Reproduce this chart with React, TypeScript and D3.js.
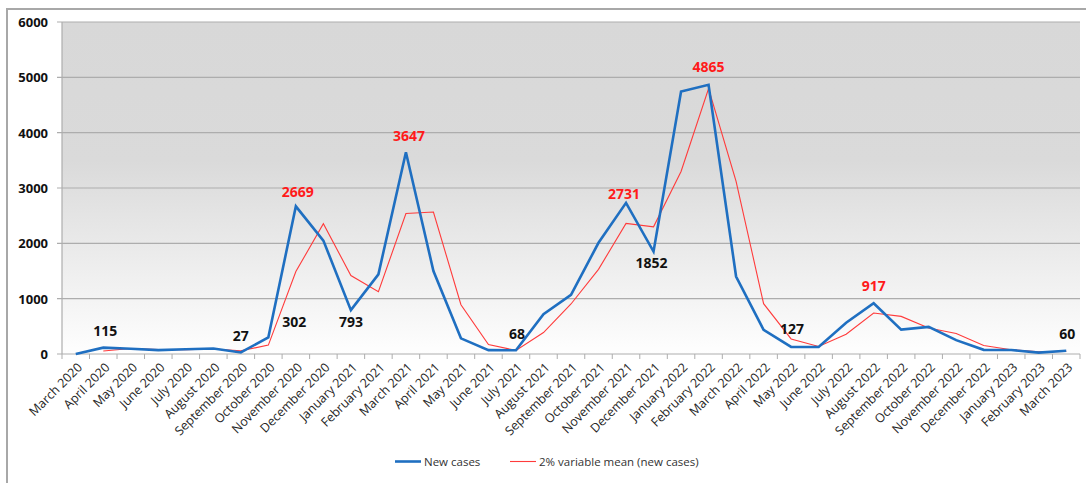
import React from "react";
import * as d3 from "d3";

const months = [
  "March 2020","April 2020","May 2020","June 2020","July 2020","August 2020","September 2020","October 2020","November 2020","December 2020",
  "January 2021","February 2021","March 2021","April 2021","May 2021","June 2021","July 2021","August 2021","September 2021","October 2021","November 2021","December 2021",
  "January 2022","February 2022","March 2022","April 2022","May 2022","June 2022","July 2022","August 2022","September 2022","October 2022","November 2022","December 2022",
  "January 2023","February 2023","March 2023",
];

const newCases = [
  0, 115, 95, 70, 85, 100, 27, 302, 2669, 2050,
  793, 1440, 3647, 1500, 283, 70, 68, 720, 1070, 2010, 2731, 1852,
  4745, 4865, 1400, 436, 127, 128, 565, 917, 440, 490, 250, 75,
  72, 25, 60,
];

const movingMean: (number | null)[] = [
  null, 55, 100, 80, 78, 90, 58, 160, 1490, 2355,
  1418, 1125, 2540, 2565, 890, 170, 65, 388, 904, 1530, 2360, 2298,
  3298, 4795, 3120, 910, 272, 135, 358, 740, 680, 470, 372, 155,
  78, 40, 48,
];

const yTicks = [0, 1000, 2000, 3000, 4000, 5000, 6000];

// annotations: month index, value text, color, label offset
const annotations = [
  { i: 1, text: "115", color: "#111", dx: 2, dy: -17 },
  { i: 6, text: "27", color: "#111", dx: 0, dy: -17 },
  { i: 7, text: "302", color: "#111", dx: 26, dy: -16 },
  { i: 10, text: "793", color: "#111", dx: 0, dy: 11 },
  { i: 16, text: "68", color: "#111", dx: 1, dy: -17 },
  { i: 21, text: "1852", color: "#111", dx: -2, dy: 11 },
  { i: 26, text: "127", color: "#111", dx: 1, dy: -18 },
  { i: 36, text: "60", color: "#111", dx: 1, dy: -17 },
  { i: 8, text: "2669", color: "#ff1a1a", dx: 2, dy: -15 },
  { i: 12, text: "3647", color: "#ff1a1a", dx: 3, dy: -17 },
  { i: 20, text: "2731", color: "#ff1a1a", dx: -2, dy: -9 },
  { i: 23, text: "4865", color: "#ff1a1a", dx: 0, dy: -18 },
  { i: 29, text: "917", color: "#ff1a1a", dx: 0, dy: -18 },
];

const W = 1086, H = 483;
const plot = { left: 62, right: 1080, top: 22, bottom: 354 };

export default function App() {
  const x = d3.scaleBand<string>().domain(months).range([plot.left, plot.right]).padding(0);
  const y = d3.scaleLinear().domain([0, 6000]).range([plot.bottom, plot.top]);
  const cx = (i: number) => (x(months[i]) as number) + x.bandwidth() / 2;

  const lineBlue = d3.line<number>().x((_, i) => cx(i)).y((d) => y(d))(newCases) as string;
  const lineRed = d3
    .line<number | null>()
    .defined((d) => d !== null)
    .x((_, i) => cx(i))
    .y((d) => y(d as number))(movingMean) as string;

  const font = "'Open Sans', 'Liberation Sans', sans-serif";

  return (
    <svg width={W} height={H} style={{ position: "absolute", left: 0, top: 0, background: "#fff" }} fontFamily={font}>
      <defs>
        <linearGradient id="bg" x1="0" y1="0" x2="0" y2="1">
          <stop offset="0" stopColor="#d8d8d8" />
          <stop offset="0.42" stopColor="#dadada" />
          <stop offset="1" stopColor="#fefefe" />
        </linearGradient>
      </defs>
      <rect x={7} y={9} width={1200} height={600} fill="#fff" stroke="#a8a8a8" strokeWidth={2} />
      <rect x={plot.left} y={plot.top} width={plot.right - plot.left} height={plot.bottom - plot.top} fill="url(#bg)" />
      {yTicks.map((t) => (
        <g key={t}>
          <line x1={plot.left - 5} x2={plot.right} y1={y(t)} y2={y(t)} stroke="#adadad" strokeWidth={1.2} />
          <text x={48} y={y(t)} textAnchor="end" dominantBaseline="central" fontSize={13} fontWeight={700} fill="#111">
            {t}
          </text>
        </g>
      ))}
      <line x1={plot.left} x2={plot.left} y1={plot.top} y2={plot.bottom} stroke="#adadad" strokeWidth={1.2} />
      {months.map((m) => (
        <line key={"t" + m} x1={x(m) as number} x2={x(m) as number} y1={plot.bottom} y2={plot.bottom + 5} stroke="#adadad" />
      ))}
      <line x1={plot.right} x2={plot.right} y1={plot.bottom} y2={plot.bottom + 5} stroke="#adadad" />
      {months.map((m, i) => (
        <text
          key={"l" + m}
          transform={`translate(${cx(i) + 4},${plot.bottom + 11}) rotate(-45)`}
          textAnchor="end"
          dominantBaseline="central"
          fontSize={12.5}
          fill="#262626"
        >
          {m}
        </text>
      ))}
      <path d={lineRed} fill="none" stroke="#ff3b3b" strokeWidth={1.1} />
      <path d={lineBlue} fill="none" stroke="#1f6fc1" strokeWidth={2.6} strokeLinejoin="miter" />
      {annotations.map((a) => (
        <text
          key={"a" + a.i}
          x={cx(a.i) + a.dx}
          y={y(newCases[a.i]) + a.dy}
          textAnchor="middle"
          dominantBaseline="central"
          fontSize={14}
          fontWeight={700}
          fill={a.color}
        >
          {a.text}
        </text>
      ))}
      <g>
        <line x1={395} x2={421} y1={461.5} y2={461.5} stroke="#1f6fc1" strokeWidth={2.6} />
        <text x={424} y={461.5} dominantBaseline="central" fontSize={11.5} fill="#333">New cases</text>
        <line x1={510} x2={536} y1={461.5} y2={461.5} stroke="#ff3b3b" strokeWidth={1.1} />
        <text x={539} y={461.5} dominantBaseline="central" fontSize={11.5} fill="#333">2% variable mean (new cases)</text>
      </g>
    </svg>
  );
}
